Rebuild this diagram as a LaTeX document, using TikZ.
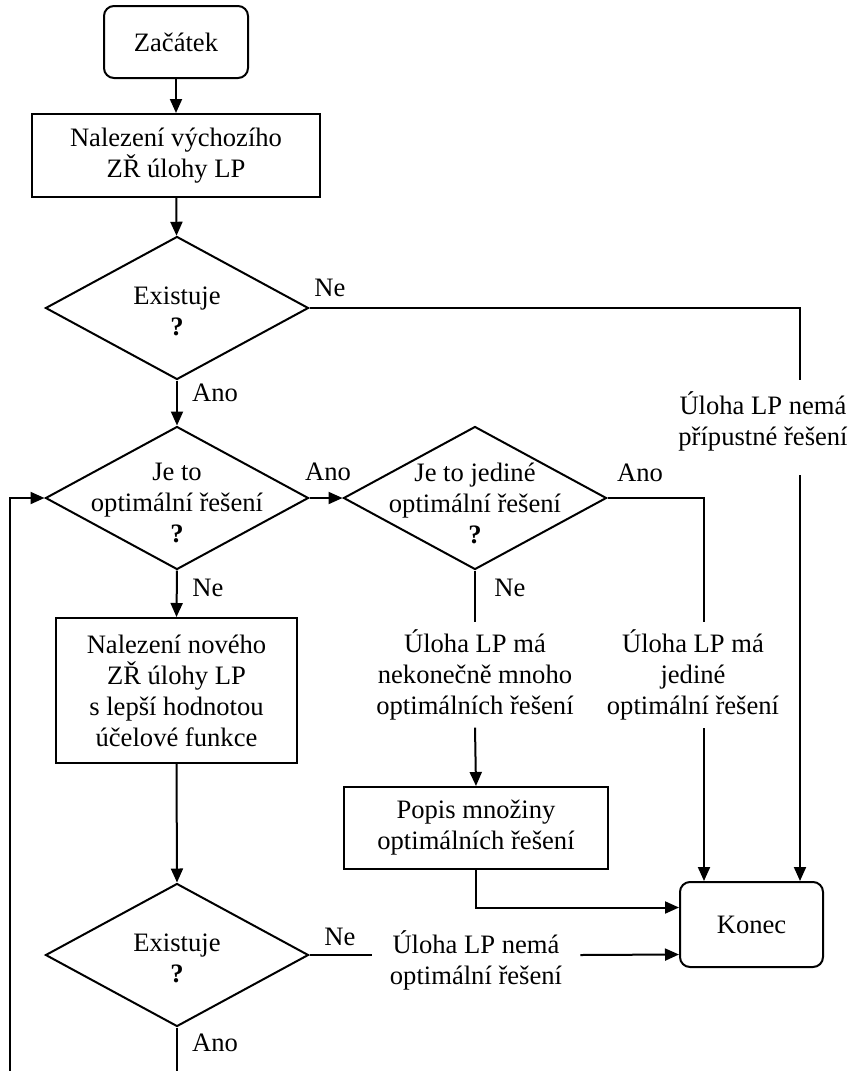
\documentclass[tikz,border=0pt]{standalone}
\usepackage{fontspec}
\setmainfont{Liberation Serif}
\usetikzlibrary{arrows.meta,shapes.geometric}

\begin{document}
\begin{tikzpicture}[x=0.5pt,y=-0.5pt,
  every node/.style={font=\fontsize{13.3}{15.5}\selectfont},
  terminal/.style={draw,line width=1pt,rounded corners=5pt,inner sep=0pt},
  box/.style={draw,line width=1pt,align=center,inner sep=0pt},
  decision/.style={draw,line width=1pt,diamond,minimum width=131.5pt,minimum height=71.5pt,inner sep=0pt},
  txt/.style={align=center,inner sep=3.5pt},
  lbl/.style={inner sep=0pt},
  line/.style={line width=1pt},
  arr/.style={line width=1pt,-{Triangle[length=7pt,width=6pt]}}]
\useasboundingbox (0,0) rectangle (857,1071);
\clip (0,0) rectangle (857,1071);

\node[terminal,minimum width=72pt,minimum height=36pt] (start) at (176,42) {Začátek};
\node[box,minimum width=144pt,minimum height=41.5pt] (first) at (176,155.5) {Nalezení výchozího\\ZŘ úlohy LP};
\node[decision] (exist) at (177,308) {};
\node[txt] (existT) at (177,311) {Existuje\\\textbf{?}};
\node[decision] (opt) at (177,498) {};
\node[txt] (optT) at (177,503) {Je to\\optimální řešení\\\textbf{?}};
\node[decision] (uniq) at (475,498) {};
\node[txt] (uniqT) at (475,503) {Je to jediné\\optimální řešení\\\textbf{?}};
\node[box,minimum width=120.5pt,minimum height=72.5pt] (better) at (176.5,690.5) {Nalezení nového\\ZŘ úlohy LP\\s lepší hodnotou\\účelové funkce};
\node[decision] (exist2) at (177,955) {};
\node[txt] (exist2T) at (177,958) {Existuje\\\textbf{?}};
\node[box,minimum width=132pt,minimum height=41pt] (popis) at (476,828) {Popis množiny\\optimálních řešení};
\node[terminal,minimum width=71.5pt,minimum height=42.5pt] (end) at (751.5,924.5) {Konec};

\node[txt] (nofeas) at (763,421) {Úloha LP nemá\\přípustné řešení};
\node[txt] (many) at (475,675) {Úloha LP má\\nekonečně mnoho\\optimálních řešení};
\node[txt] (one) at (693,675) {Úloha LP má\\jediné\\optimální řešení};
\node[txt,inner xsep=9pt] (noopt) at (476,960) {Úloha LP nemá\\optimální řešení};

\node[lbl] (ne1) at (330,288) {Ne};
\node[lbl] (ano1) at (215,393) {Ano};
\node[lbl] (ano2) at (328,472) {Ano};
\node[lbl] (ne2) at (208,588) {Ne};
\node[lbl] (ano3) at (640,473) {Ano};
\node[lbl] (ne3) at (510,588) {Ne};
\node[lbl] (ne4) at (340,937) {Ne};
\node[lbl] (ano4) at (215,1043) {Ano};

\coordinate (c1) at (800,380);
\coordinate (c2) at (800,475);
\coordinate (c3) at (704,622);
\coordinate (c4) at (704,728);
\coordinate (back) at (10,1090);

\draw[arr] (start) -- (first);
\draw[arr] (first) -- (exist);
\draw[arr] (exist) -- (opt);
\draw[line] (exist.east) -| (c1);
\draw[arr] (c2) -- (c2 |- end.north);
\draw[arr] (opt.east) -- (uniq.west);
\draw[line] (uniq.south) -- (many.north);
\draw[arr] (many.south) -- (popis.north);
\draw[line] (uniq.east) -| (c3);
\draw[arr] (c4) -- (c4 |- end.north);
\draw[arr] (popis.south) |- ([yshift=8.5pt]end.west);
\draw[arr] (opt.south) -- (better.north);
\draw[arr] (better.south) -- (exist2.north);
\draw[line] (exist2.east) -- (noopt.west |- exist2.east);
\draw[arr] (noopt.east |- exist2.east) -- ([yshift=-15pt]end.west);
\draw[arr] (exist2.south) |- (back) |- (opt.west);
\end{tikzpicture}
\end{document}
